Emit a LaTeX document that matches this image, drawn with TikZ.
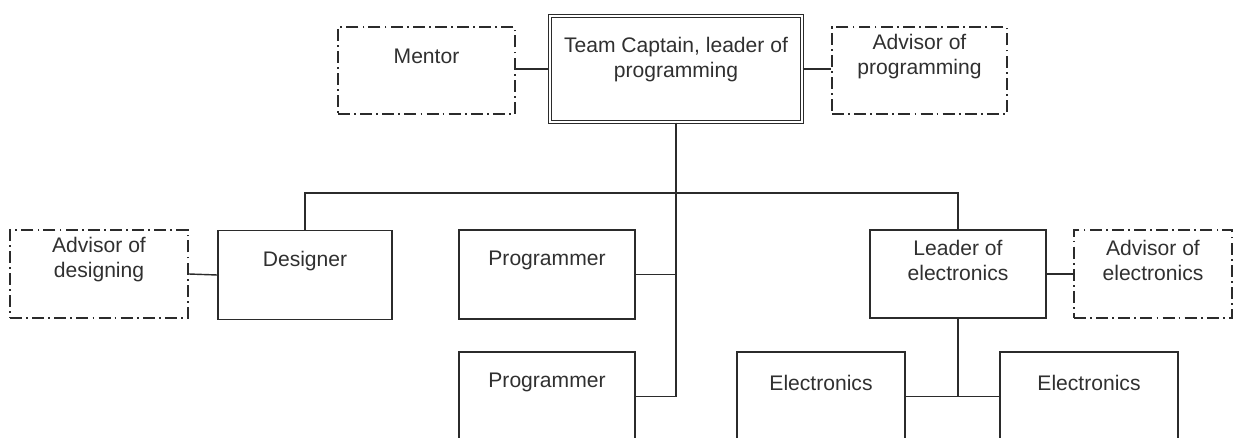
\documentclass[tikz,border=0pt]{standalone}
\usepackage{fontspec}
\setmainfont{Liberation Sans}
\definecolor{linegray}{HTML}{2B2B2B}
\definecolor{textgray}{HTML}{303030}

\begin{document}
\begin{tikzpicture}[
        box/.style={draw=linegray, line width=0.8pt, minimum width=3.52cm, minimum height=1.78cm, inner sep=0pt},
        advbox/.style={box, dash pattern=on 6.8pt off 2.4pt on 1pt off 2.4pt},
        lbl/.style={anchor=center, align=center, inner sep=0pt, yshift=0.28cm, text=textgray, font=\fontsize{12}{14.2}\selectfont},
        link/.style={draw=linegray, line width=0.8pt}
    ]
                \useasboundingbox (0,0) rectangle (24.84,8.74);
                \clip (0,0) rectangle (24.84,8.74);

                \node[advbox, minimum width=3.54cm, minimum height=1.74cm, label={[lbl]center:Mentor}] (mentor) at (8.53,7.33) {};
                \node[box, minimum width=5.04cm, minimum height=2.12cm, line width=0.7pt, double=white, double distance=1.4pt, label={[lbl,yshift=-0.1cm]center:{Team Captain, leader of\\programming}}] (captain) at (13.52,7.36) {};
                \node[advbox, minimum width=3.50cm, minimum height=1.74cm, label={[lbl]center:{Advisor of\\programming}}] (advprog) at (18.39,7.33) {};

                \node[advbox, minimum width=3.56cm, minimum height=1.76cm, label={[lbl]center:{Advisor of\\designing}}] (advdes) at (1.98,3.26) {};
                \node[box, minimum width=3.48cm, label={[lbl]center:Designer}] (designer) at (6.10,3.24) {};
                \node[box, label={[lbl]center:Programmer}] (prog1) at (10.94,3.25) {};
                \node[box, label={[lbl]center:Programmer}] (prog2) at (10.94,0.81) {};
                \node[box, minimum height=1.76cm, label={[lbl]center:{Leader of\\electronics}}] (leader) at (19.16,3.26) {};
                \node[advbox, minimum width=3.16cm, minimum height=1.76cm, label={[lbl]center:{Advisor of\\electronics}}] (advel) at (23.06,3.26) {};
                \node[box, minimum width=3.36cm, label={[lbl]center:Electronics}] (elec1) at (16.42,0.81) {};
                \node[box, minimum width=3.56cm, label={[lbl]center:Electronics}] (elec2) at (21.78,0.81) {};

                \coordinate (bus) at (13.52,4.88);

                \draw[link] (mentor.east |- captain.west) -- (captain.west);
                \draw[link] (captain.east) -- (advprog.west |- captain.east);
                \draw[link] (captain.south) |- (prog2.east);
                \draw[link] (prog1.east) -- (prog1.east -| captain.south);
                \draw[link] (designer.north) |- (bus) -| (leader.north);
                \draw[link] (advdes.east) -- (designer.west);
                \draw[link] (leader.east) -- (advel.west);
                \draw[link] (leader.south) -- (leader.south |- elec1.east);
                \draw[link] (elec1.east) -- (elec2.west);
\end{tikzpicture}
\end{document}
